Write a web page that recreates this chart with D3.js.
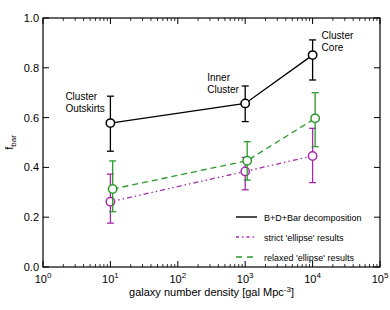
<!DOCTYPE html>
<html>
<head>
<meta charset="utf-8">
<script src="https://cdn.jsdelivr.net/npm/d3@7"></script>
<style>
  body { margin: 0; background: #fff; }
  svg { font-family: "Liberation Sans", Arial, sans-serif; }
</style>
</head>
<body>
<div id="chart"></div>
<script>
// ---- data ----
const bdbX   = [10, 1000, 10000];
const bdbY   = [0.578, 0.657, 0.851];
const bdbHi  = [0.686, 0.727, 0.912];
const bdbLo  = [0.465, 0.584, 0.751];

const strictX  = [10, 1000, 10000];
const strictY  = [0.262, 0.384, 0.446];
const strictHi = [0.373, 0.44, 0.557];
const strictLo = [0.176, 0.31, 0.339];

const relaxX  = [10.8, 1070, 10900];
const relaxY  = [0.313, 0.427, 0.597];
const relaxHi = [0.426, 0.503, 0.70];
const relaxLo = [0.222, 0.349, 0.483];

const regionLabels = [
  {x: 10,    y: 0.578, lines: ["Cluster", "Outskirts"]},
  {x: 1000,  y: 0.657, lines: ["Inner", "Cluster"]},
  {x: 10000, y: 0.851, lines: ["Cluster", "Core"]}
];

const xTicks = [1, 10, 100, 1000, 10000, 100000];
const yTicks = [0, 0.2, 0.4, 0.6, 0.8, 1.0];
const legendNames = ["B+D+Bar decomposition", "strict 'ellipse' results", "relaxed 'ellipse' results"];

// ---- layout ----
const W = 390, H = 310;
const m = {l: 43, r: 10, t: 18, b: 43};
const iw = W - m.l - m.r, ih = H - m.t - m.b;

const svg = d3.select("#chart").append("svg").attr("width", W).attr("height", H);
const g = svg.append("g").attr("transform", `translate(${m.l},${m.t})`);

const x = d3.scaleLog().domain([1, 1e5]).range([0, iw]);
const y = d3.scaleLinear().domain([0, 1]).range([ih, 0]);

// frame
g.append("rect").attr("width", iw).attr("height", ih)
  .attr("fill", "none").attr("stroke", "#000").attr("stroke-width", 1.2);

// minor + major x ticks (inward, top and bottom)
const minor = [];
for (let e = 0; e < 5; e++) for (let k = 2; k < 10; k++) minor.push(k * Math.pow(10, e));
[[ih, -1], [0, 1]].forEach(([y0, dir]) => {
  g.selectAll(null).data(minor).enter().append("line")
    .attr("x1", d => x(d)).attr("x2", d => x(d))
    .attr("y1", y0).attr("y2", y0 + dir * 3)
    .attr("stroke", "#000").attr("stroke-width", 0.8);
  g.selectAll(null).data(xTicks).enter().append("line")
    .attr("x1", d => x(d)).attr("x2", d => x(d))
    .attr("y1", y0).attr("y2", y0 + dir * 6)
    .attr("stroke", "#000").attr("stroke-width", 1);
});
// y ticks both sides
[[0, 1], [iw, -1]].forEach(([x0, dir]) => {
  g.selectAll(null).data(yTicks).enter().append("line")
    .attr("x1", x0).attr("x2", x0 + dir * 6)
    .attr("y1", d => y(d)).attr("y2", d => y(d))
    .attr("stroke", "#000").attr("stroke-width", 1);
});

// tick labels
const xl = g.selectAll(null).data(xTicks).enter().append("text")
  .attr("x", d => x(d)).attr("y", ih + 16)
  .attr("text-anchor", "middle").attr("font-size", 11);
xl.append("tspan").text("10");
xl.append("tspan").attr("dy", -5).attr("font-size", 8).text(d => Math.round(Math.log10(d)));

g.selectAll(null).data(yTicks).enter().append("text")
  .attr("x", -4).attr("y", d => y(d) + 4)
  .attr("text-anchor", "end").attr("font-size", 11)
  .text(d3.format(".1f"));

// axis titles
const xt = svg.append("text").attr("x", m.l + iw / 2).attr("y", 296)
  .attr("text-anchor", "middle").attr("font-size", 11);
xt.append("tspan").text("galaxy number density [gal Mpc");
xt.append("tspan").attr("dy", -4).attr("font-size", 8).text("-3");
xt.append("tspan").attr("dy", 4).text("]");

const yt = svg.append("text").attr("transform", `translate(13,${m.t + ih / 2}) rotate(-90)`)
  .attr("text-anchor", "middle").attr("font-size", 11);
yt.append("tspan").text("f");
yt.append("tspan").attr("dy", 3).attr("font-size", 8).text("bar");

// series
const series = [
  {xs: strictX, ys: strictY, hi: strictHi, lo: strictLo, color: "#a62aa8", dash: "5,3,1.5,3,1.5,3"},
  {xs: relaxX, ys: relaxY, hi: relaxHi, lo: relaxLo, color: "#2a9a2a", dash: "6,4"},
  {xs: bdbX, ys: bdbY, hi: bdbHi, lo: bdbLo, color: "#000", dash: null}
];

series.forEach(s => {
  const pts = s.xs.map((d, i) => ({x: d, y: s.ys[i], hi: s.hi[i], lo: s.lo[i]}));
  g.append("path").datum(pts)
    .attr("d", d3.line().x(d => x(d.x)).y(d => y(d.y)))
    .attr("fill", "none").attr("stroke", s.color).attr("stroke-width", 1.3)
    .attr("stroke-dasharray", s.dash);
  const eb = g.selectAll(null).data(pts).enter().append("g").attr("stroke", s.color).attr("stroke-width", 1.3);
  eb.append("line").attr("x1", d => x(d.x)).attr("x2", d => x(d.x))
    .attr("y1", d => y(d.hi)).attr("y2", d => y(d.lo));
  eb.append("line").attr("x1", d => x(d.x) - 3.5).attr("x2", d => x(d.x) + 3.5)
    .attr("y1", d => y(d.hi)).attr("y2", d => y(d.hi));
  eb.append("line").attr("x1", d => x(d.x) - 3.5).attr("x2", d => x(d.x) + 3.5)
    .attr("y1", d => y(d.lo)).attr("y2", d => y(d.lo));
  g.selectAll(null).data(pts).enter().append("circle")
    .attr("cx", d => x(d.x)).attr("cy", d => y(d.y)).attr("r", 4.2)
    .attr("fill", "#fff").attr("stroke", s.color).attr("stroke-width", 1.5);
});

// region annotations
const offs = [[-45, -23], [-38, -22], [9, -16]];
regionLabels.forEach((r, i) => {
  const t = g.append("text").attr("font-size", 10)
    .attr("x", x(r.x) + offs[i][0]).attr("y", y(r.y) + offs[i][1]);
  r.lines.forEach((l, j) => t.append("tspan").attr("x", x(r.x) + offs[i][0]).attr("dy", j ? 12 : 0).text(l));
});

// legend
const legColors = ["#000", "#a62aa8", "#2a9a2a"];
const legDash = [null, "3,3,1.5,3", "6,5"];
legendNames.forEach((n, i) => {
  const ly = 217 + i * 20;
  svg.append("line").attr("x1", 236).attr("x2", 257).attr("y1", ly).attr("y2", ly)
    .attr("stroke", legColors[i]).attr("stroke-width", 1.4).attr("stroke-dasharray", legDash[i]);
  svg.append("text").attr("x", 264).attr("y", ly + 3.5).attr("font-size", 9).text(n);
});
</script>
</body>
</html>
